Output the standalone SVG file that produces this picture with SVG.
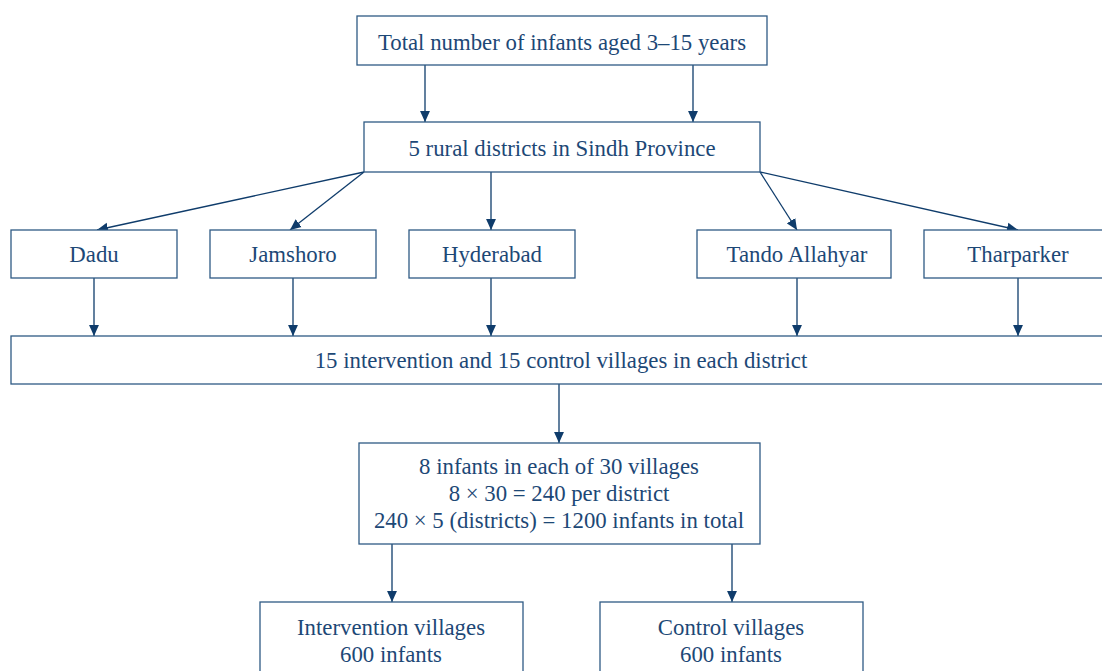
<svg xmlns="http://www.w3.org/2000/svg" width="1102" height="671" viewBox="0 0 1102 671">
<defs>
<marker id="ah" viewBox="0 0 10 10" refX="10" refY="5" markerWidth="11" markerHeight="11" markerUnits="userSpaceOnUse" orient="auto">
<path d="M0,0.5 L10,5 L0,9.5 z" fill="#0f3c6b"/>
</marker>
<style>
.box{fill:#ffffff;stroke:#2f5a84;stroke-width:1.3}
.t{font-family:"Liberation Serif","DejaVu Serif",serif;font-size:22.8px;fill:#1d4876;text-anchor:middle}
.c{stroke:#0f3c6b;stroke-width:1.3;fill:none;marker-end:url(#ah)}
</style>
</defs>
<rect width="1102" height="671" fill="#ffffff"/>
<g id="connectors">
<line class="c" x1="425" y1="65" x2="425" y2="122"/>
<line class="c" x1="693" y1="65" x2="693" y2="122"/>
<line class="c" x1="364" y1="172" x2="97" y2="230"/>
<line class="c" x1="364" y1="172" x2="290" y2="230"/>
<line class="c" x1="491" y1="172" x2="491" y2="230"/>
<line class="c" x1="760" y1="172" x2="797" y2="230"/>
<line class="c" x1="760" y1="172" x2="1018" y2="230"/>
<line class="c" x1="94" y1="278" x2="94" y2="336"/>
<line class="c" x1="293" y1="278" x2="293" y2="336"/>
<line class="c" x1="491" y1="278" x2="491" y2="336"/>
<line class="c" x1="797" y1="278" x2="797" y2="336"/>
<line class="c" x1="1018" y1="278" x2="1018" y2="336"/>
<line class="c" x1="559" y1="384" x2="559" y2="443"/>
<line class="c" x1="392" y1="544" x2="392" y2="602"/>
<line class="c" x1="732" y1="544" x2="732" y2="602"/>
</g>
<g id="total">
<rect class="box" x="357" y="16" width="410" height="49"/>
<text class="t" x="562" y="50">Total number of infants aged 3–15 years</text>
</g>
<g id="districts5">
<rect class="box" x="364" y="122" width="396" height="50"/>
<text class="t" x="562" y="156">5 rural districts in Sindh Province</text>
</g>
<g id="dadu">
<rect class="box" x="11" y="230" width="166" height="48"/>
<text class="t" x="94" y="262">Dadu</text>
</g>
<g id="jamshoro">
<rect class="box" x="210" y="230" width="166" height="48"/>
<text class="t" x="293" y="262">Jamshoro</text>
</g>
<g id="hyderabad">
<rect class="box" x="409" y="230" width="166" height="48"/>
<text class="t" x="492" y="262">Hyderabad</text>
</g>
<g id="tando">
<rect class="box" x="697" y="230" width="194" height="48"/>
<text class="t" x="797" y="262">Tando Allahyar</text>
</g>
<g id="tharparker">
<rect class="box" x="924" y="230" width="190" height="48"/>
<text class="t" x="1018" y="262">Tharparker</text>
</g>
<g id="villages">
<rect class="box" x="11" y="336" width="1100" height="48"/>
<text class="t" x="561" y="368">15 intervention and 15 control villages in each district</text>
</g>
<g id="infants">
<rect class="box" x="359" y="443" width="401" height="101"/>
<text class="t" x="559" y="474">8 infants in each of 30 villages</text>
<text class="t" x="559" y="501">8 × 30 = 240 per district</text>
<text class="t" x="559" y="528">240 × 5 (districts) = 1200 infants in total</text>
</g>
<g id="intervention">
<rect class="box" x="260" y="602" width="263" height="80"/>
<text class="t" x="391" y="635">Intervention villages</text>
<text class="t" x="391" y="662">600 infants</text>
</g>
<g id="control">
<rect class="box" x="600" y="602" width="263" height="80"/>
<text class="t" x="731" y="635">Control villages</text>
<text class="t" x="731" y="662">600 infants</text>
</g>
</svg>
